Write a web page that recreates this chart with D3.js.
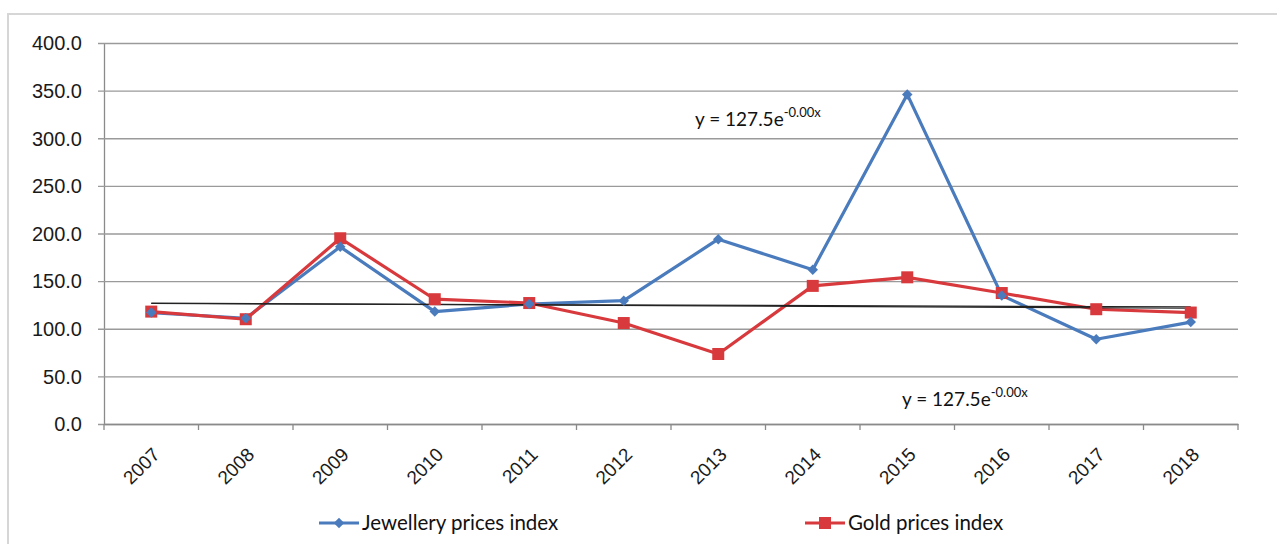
<!DOCTYPE html>
<html>
<head>
<meta charset="utf-8">
<script src="https://cdn.jsdelivr.net/npm/d3@7"></script>
<style>
  html, body { margin: 0; padding: 0; background: #fff; }
  svg { display: block; font-family: Lato, "Open Sans", sans-serif; }
</style>
</head>
<body>
<svg id="chart" width="1277" height="544"></svg>
<script>
// Yearly index values
const years = ["2007","2008","2009","2010","2011","2012","2013","2014","2015","2016","2017","2018"];
const jewelleryIndex = [117, 111, 186, 118, 126, 129.5, 194, 162, 346, 135, 89, 107];
const goldIndex      = [118, 110, 195, 131, 127, 106, 73.5, 145, 154, 137.5, 120.5, 117];
// Exponential trend lines, values at first and last year
const jewelleryTrend = [126.5, 123];
const goldTrend      = [127, 121.5];
const yTicks = [0, 50, 100, 150, 200, 250, 300, 350, 400];
const equationLabel = "y = 127.5e";
const equationExp = "-0.00x";

const svg = d3.select("#chart");
const margin = { left: 104, right: 1238, top: 43, bottom: 424 };

// outer chart frame
svg.append("rect").attr("x", 8).attr("y", 14).attr("width", 1300).attr("height", 560)
  .attr("fill", "#fff").attr("stroke", "#d6d6d6").attr("stroke-width", 2);

const x = d3.scaleBand().domain(years).range([margin.left, margin.right]);
const y = d3.scaleLinear().domain([0, 400]).range([margin.bottom, margin.top]);
const cx = d => x(d) + x.bandwidth() / 2;

// horizontal gridlines with left ticks
const yAxis = d3.axisLeft(y).tickValues(yTicks).tickFormat(d3.format(".1f"))
  .tickSize(-(margin.right - margin.left)).tickSizeOuter(0).tickPadding(22);
const gy = svg.append("g").attr("transform", `translate(${margin.left},0)`).call(yAxis);
gy.select(".domain").attr("stroke", "#8a8a8a").attr("stroke-width", 1.3);
gy.selectAll(".tick line").attr("stroke", "#9a9a9a").attr("stroke-width", 1.3).attr("x1", -6);
gy.selectAll(".tick text").attr("font-size", 20).attr("fill", "#1a1a1a").attr("dy", "0.34em");

// category axis
const xAxis = d3.axisBottom(x).tickSize(0).tickSizeOuter(0);
const gx = svg.append("g").attr("transform", `translate(0,${margin.bottom})`).call(xAxis);
gx.select(".domain").attr("stroke", "#8a8a8a").attr("stroke-width", 1.5);
gx.selectAll(".tick text")
  .attr("font-size", 19).attr("fill", "#1a1a1a")
  .attr("text-anchor", "end")
  .attr("transform", "translate(5,27) rotate(-45)")
  .attr("dy", "0.35em").attr("y", 0);
// tick marks on band boundaries
const boundaries = years.map(d => x(d)).concat([margin.right]);
gx.selectAll(".bnd").data(boundaries).enter().append("line")
  .attr("x1", d => d).attr("x2", d => d).attr("y1", 0).attr("y2", 6)
  .attr("stroke", "#8a8a8a").attr("stroke-width", 1.3);

// trend lines
const trendLine = (vals) => svg.append("line")
  .attr("x1", cx(years[0])).attr("y1", y(vals[0]))
  .attr("x2", cx(years[years.length - 1])).attr("y2", y(vals[1]))
  .attr("stroke", "#222").attr("stroke-width", 1.2);

const line = d3.line().x((d, i) => cx(years[i])).y(d => y(d));
const blue = "#4a7bbd", red = "#d8393c";

// jewellery series
svg.append("path").datum(jewelleryIndex).attr("d", line)
  .attr("fill", "none").attr("stroke", blue).attr("stroke-width", 3.2).attr("stroke-linejoin", "round");
// gold series
svg.append("path").datum(goldIndex).attr("d", line)
  .attr("fill", "none").attr("stroke", red).attr("stroke-width", 3.2).attr("stroke-linejoin", "round");

trendLine(jewelleryTrend);
trendLine(goldTrend);

svg.selectAll(".sq").data(goldIndex).enter().append("rect")
  .attr("x", (d, i) => cx(years[i]) - 6).attr("y", d => y(d) - 6)
  .attr("width", 12).attr("height", 12).attr("fill", red);

const diamond = d3.symbol().type(d3.symbolDiamond2).size(70);
svg.selectAll(".dm").data(jewelleryIndex).enter().append("path")
  .attr("d", diamond)
  .attr("transform", (d, i) => `translate(${cx(years[i])},${y(d)})`)
  .attr("fill", blue);

// trend equations
function equation(px, py) {
  const t = svg.append("text").attr("x", px).attr("y", py).attr("font-size", 19).attr("fill", "#111");
  t.append("tspan").text(equationLabel);
  t.append("tspan").attr("dy", -9).attr("font-size", 13).text(equationExp);
}
equation(695, 126);
equation(902, 406);

// legend
function legendItem(x0, color, label, square) {
  svg.append("line").attr("x1", x0).attr("x2", x0 + 40).attr("y1", 523).attr("y2", 523)
    .attr("stroke", color).attr("stroke-width", 3.2);
  if (square) {
    svg.append("rect").attr("x", x0 + 14).attr("y", 517).attr("width", 12).attr("height", 12).attr("fill", color);
  } else {
    svg.append("path").attr("d", diamond).attr("transform", `translate(${x0 + 20},523)`).attr("fill", color);
  }
  svg.append("text").attr("x", x0 + 43).attr("y", 523).attr("dy", "0.35em")
    .attr("font-size", 20.5).attr("fill", "#111").text(label);
}
legendItem(319, blue, "Jewellery prices index", false);
legendItem(805, red, "Gold prices index", true);
</script>
</body>
</html>
